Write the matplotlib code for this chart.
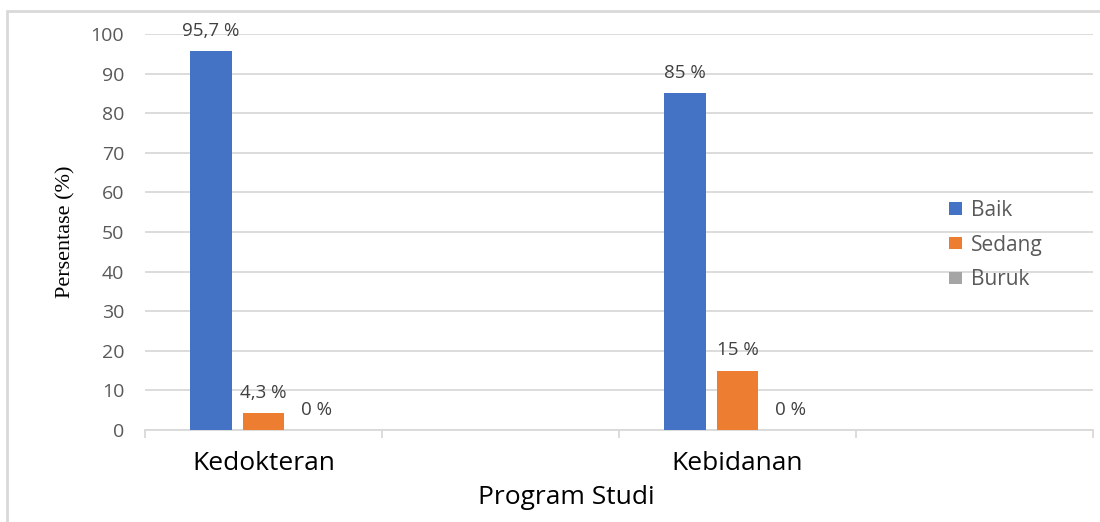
import numpy as np
import matplotlib
matplotlib.use("Agg")
from matplotlib import pyplot as plt
from matplotlib.patches import Rectangle

# ---------------- data ----------------
prodi = ['Kedokteran', '', 'Kebidanan', '']
kategori = ['Baik', 'Sedang', 'Buruk']
baik = [95.7, np.nan, 85, np.nan]
sedang = [4.3, np.nan, 15, np.nan]
buruk = [0, np.nan, 0, np.nan]
label_baik = ['95,7 %', '', '85 %', '']
label_sedang = ['4,3 %', '', '15 %', '']
label_buruk = ['0 %', '', '0 %', '']

colors = ['#4472C4', '#ED7D31', '#A5A5A5']
sans = ['Open Sans', 'DejaVu Sans']

fig = plt.figure(figsize=(11, 5.22), dpi=100)
ax = fig.add_axes([145/1100, 92/522, (1093-145)/1100, (430-34)/522])

# outer frame of the chart
fig.patches.append(Rectangle((7/1100, -0.1), 1.2, (522-11)/522 + 0.1,
                             transform=fig.transFigure, fill=False,
                             edgecolor='#d9d9d9', linewidth=2))

x = np.arange(len(prodi))
w = 0.177
off = 0.222
series = [baik, sedang, buruk]
labels = [label_baik, label_sedang, label_buruk]
for i in range(3):
    xs = x + (i - 1) * off
    ax.bar(xs, series[i], width=w, color=colors[i], label=kategori[i], zorder=3)
    for xx, v, t in zip(xs, series[i], labels[i]):
        if t:
            ax.annotate(t, (xx, v), xytext=(0, 14.5), textcoords='offset points',
                        ha='center', va='center', fontsize=13.5, color='#404040',
                        family=sans)

ax.set_xlim(-0.5, 3.5)
ax.set_ylim(0, 100)
ax.set_yticks(np.arange(0, 101, 10))
ax.grid(axis='y', color='#d9d9d9', linewidth=1.3, zorder=0)
for s in ['left', 'right', 'top']:
    ax.spines[s].set_visible(False)
ax.spines['bottom'].set_color('#d9d9d9')
ax.spines['bottom'].set_linewidth(1.3)

ax.set_xticks(x)
ax.set_xticklabels(prodi, fontsize=19, color='black', family=sans)
ax.set_xticks(np.arange(-0.5, 4, 1), minor=True)
ax.tick_params(axis='x', which='major', length=0, pad=15)
ax.tick_params(axis='x', which='minor', length=6, width=1.3, color='#d9d9d9')
ax.tick_params(axis='y', length=0, pad=15, labelsize=14, labelcolor='#595959')
for t in ax.get_yticklabels():
    t.set_family(sans)

ax.set_xlabel('Program Studi', fontsize=19, family=sans)
ax.xaxis.set_label_coords((566-145)/948, -(497-430)/396, transform=ax.transAxes)
ax.xaxis.label.set_va('center')
ax.set_ylabel('Persentase (%)', fontsize=16, family='Liberation Serif', labelpad=11)

ax.legend(loc='center left', bbox_to_anchor=(930/1100, (522-245)/522),
          bbox_transform=fig.transFigure, frameon=False,
          labelcolor='#595959', handlelength=0.65, handleheight=0.55,
          labelspacing=0.66, handletextpad=0.4, prop={'family': sans, 'size': 15})

fig.savefig('out.png', dpi=100)
